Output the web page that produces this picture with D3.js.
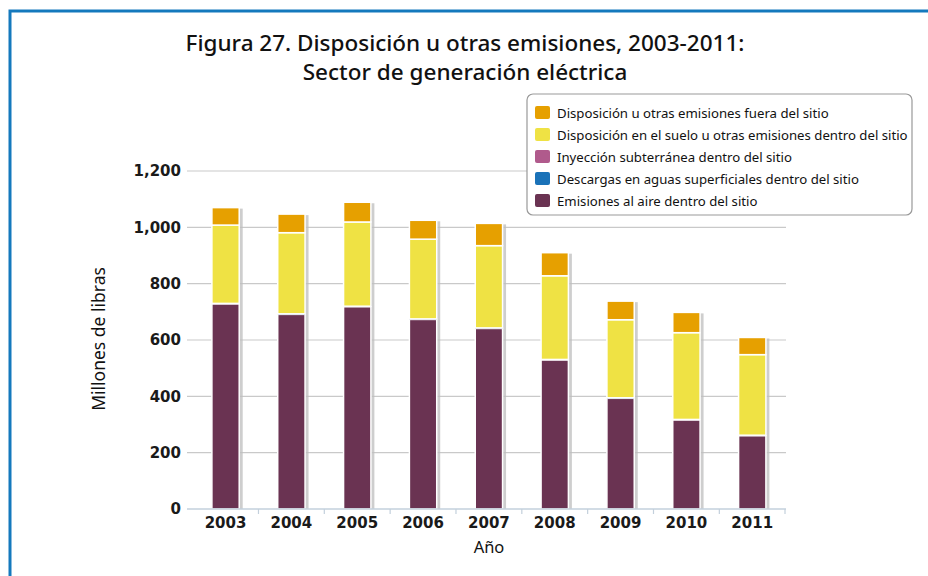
<!DOCTYPE html>
<html>
<head>
<meta charset="utf-8">
<script src="https://cdn.jsdelivr.net/npm/d3@7"></script>
<style>
  body { margin: 0; background: #fff; }
  svg { display: block; }
</style>
</head>
<body>
<div id="chart"></div>
<script>
// Data (millions of pounds)
const years = ['2003', '2004', '2005', '2006', '2007', '2008', '2009', '2010', '2011'];
const airEmissions = [728, 691, 718, 673, 641, 529, 393, 316, 260];
const surfaceWater = [1, 1, 1, 1, 1, 1, 1, 1, 1];
const undergroundInjection = [1, 1, 1, 1, 1, 1, 1, 1, 1];
const landDisposal = [278, 288, 299, 283, 292, 297, 277, 308, 286];
const offsiteDisposal = [62, 66, 70, 67, 79, 82, 66, 72, 61];
const yTicks = [0, 200, 400, 600, 800, 1000, 1200];

const seriesNames = [
    'Emisiones al aire dentro del sitio',
    'Descargas en aguas superficiales dentro del sitio',
    'Inyección subterránea dentro del sitio',
    'Disposición en el suelo u otras emisiones dentro del sitio',
    'Disposición u otras emisiones fuera del sitio'
];
const seriesColors = ['#6a3352', '#1a72b8', '#b05a8c', '#efe244', '#e6a000'];

const width = 928, height = 576;
const svg = d3.select('#chart').append('svg')
    .attr('width', width)
    .attr('height', height);

// Blue frame (top and left edges visible)
svg.append('rect')
    .attr('x', 10).attr('y', 11)
    .attr('width', width + 20).attr('height', height + 20)
    .attr('fill', 'none')
    .attr('stroke', '#1479bd')
    .attr('stroke-width', 3);

// Title
const title = svg.append('text')
    .attr('text-anchor', 'middle')
    .attr('font-family', '"Noto Sans", sans-serif')
    .attr('font-size', '22.5px')
    .attr('font-weight', 500)
    .attr('fill', '#111');
title.append('tspan').attr('x', 465).attr('y', 51)
    .text('Figura 27. Disposición u otras emisiones, 2003-2011:');
title.append('tspan').attr('x', 465).attr('y', 80)
    .text('Sector de generación eléctrica');

// Scales
const x = d3.scaleBand()
    .domain(years)
    .range([192.8, 785])
    .paddingInner(0.585)
    .paddingOuter(0.29);

const y = d3.scaleLinear()
    .domain([0, 1200])
    .range([509, 171]);

// Gridlines
svg.append('g')
    .selectAll('line')
    .data(yTicks.filter(d => d > 0))
    .enter()
    .append('line')
    .attr('x1', 187).attr('x2', 786)
    .attr('y1', d => y(d)).attr('y2', d => y(d))
    .attr('stroke', '#c9c9c9')
    .attr('stroke-width', 1.2);

// Y axis labels
const yAxis = svg.append('g')
    .attr('transform', 'translate(187,0)')
    .call(d3.axisLeft(y).tickValues(yTicks).tickSize(0).tickPadding(6).tickFormat(d3.format(',')));
yAxis.select('.domain').remove();
yAxis.selectAll('text')
    .attr('font-family', '"DejaVu Sans", sans-serif')
    .attr('font-weight', 'bold')
    .attr('font-size', '15px')
    .attr('fill', '#1a1a1a');

// Stack data
const table = years.map((yr, i) => ({
    year: yr,
    s0: airEmissions[i],
    s1: surfaceWater[i],
    s2: undergroundInjection[i],
    s3: landDisposal[i],
    s4: offsiteDisposal[i]
}));
const stack = d3.stack().keys(['s0', 's1', 's2', 's3', 's4']);
const stacked = stack(table);
const total = d => d.s0 + d.s1 + d.s2 + d.s3 + d.s4;

// Bar shadows
svg.append('g')
    .selectAll('rect')
    .data(table)
    .enter()
    .append('rect')
    .attr('x', d => x(d.year) + 2)
    .attr('y', d => y(total(d)) + 1)
    .attr('width', x.bandwidth() + 1.5)
    .attr('height', d => y(0) - y(total(d)) - 1)
    .attr('fill', '#bdbdbd')
    .attr('opacity', 0.75);

// Stacked bars
svg.append('g')
    .selectAll('g')
    .data(stacked)
    .enter()
    .append('g')
    .attr('fill', (d, i) => seriesColors[i])
    .selectAll('rect')
    .data(d => d)
    .enter()
    .append('rect')
    .attr('x', d => x(d.data.year))
    .attr('y', d => y(d[1]))
    .attr('width', x.bandwidth())
    .attr('height', d => Math.max(0, y(d[0]) - y(d[1])))
    .attr('stroke', '#fff')
    .attr('stroke-width', d => (d[1] - d[0]) > 2 ? 1.5 : 0);

// X axis
const xAxis = svg.append('g')
    .attr('transform', 'translate(0,509)');
xAxis.append('line')
    .attr('x1', 187).attr('x2', 786)
    .attr('stroke', '#c3d0dc').attr('stroke-width', 1.5);
xAxis.selectAll('.bound')
    .data(years.slice(1).concat(['end']))
    .enter()
    .append('line')
    .attr('x1', (d, i) => i < years.length - 1 ? x(d) - x.step() * x.paddingInner() / 2 : 785)
    .attr('x2', (d, i) => i < years.length - 1 ? x(d) - x.step() * x.paddingInner() / 2 : 785)
    .attr('y1', 0).attr('y2', 5)
    .attr('stroke', '#c3d0dc').attr('stroke-width', 1.2);
xAxis.selectAll('.lab')
    .data(years)
    .enter()
    .append('text')
    .attr('x', d => x(d) + x.bandwidth() / 2)
    .attr('y', 19)
    .attr('text-anchor', 'middle')
    .attr('font-family', '"DejaVu Sans", sans-serif')
    .attr('font-weight', 'bold')
    .attr('font-size', '15px')
    .attr('fill', '#1a1a1a')
    .text(d => d);

// Axis titles
svg.append('text')
    .attr('x', 489).attr('y', 553)
    .attr('text-anchor', 'middle')
    .attr('font-family', '"Noto Sans", sans-serif')
    .attr('font-size', '16.5px')
    .attr('fill', '#111')
    .text('Año');

svg.append('text')
    .attr('transform', 'translate(105,339) rotate(-90)')
    .attr('text-anchor', 'middle')
    .attr('font-family', '"Noto Sans", sans-serif')
    .attr('font-size', '17.5px')
    .attr('fill', '#111')
    .text('Millones de libras');

// Legend
const legend = svg.append('g')
    .attr('transform', 'translate(527,94)');
legend.append('rect')
    .attr('width', 385).attr('height', 121)
    .attr('rx', 6)
    .attr('fill', '#fff')
    .attr('stroke', '#999')
    .attr('stroke-width', 1.2);

const legendOrder = [4, 3, 2, 1, 0];
const legendItems = legend.selectAll('.legend-item')
    .data(legendOrder)
    .enter()
    .append('g')
    .attr('transform', (d, i) => `translate(8, ${19 + i * 22})`);
legendItems.append('rect')
    .attr('y', -7)
    .attr('width', 15).attr('height', 13)
    .attr('rx', 2)
    .attr('fill', d => seriesColors[d]);
legendItems.append('text')
    .attr('x', 22)
    .attr('dy', '0.35em')
    .attr('font-family', '"Noto Sans", sans-serif')
    .attr('font-size', '13.2px')
    .attr('fill', '#111')
    .text(d => seriesNames[d]);
</script>
</body>
</html>
